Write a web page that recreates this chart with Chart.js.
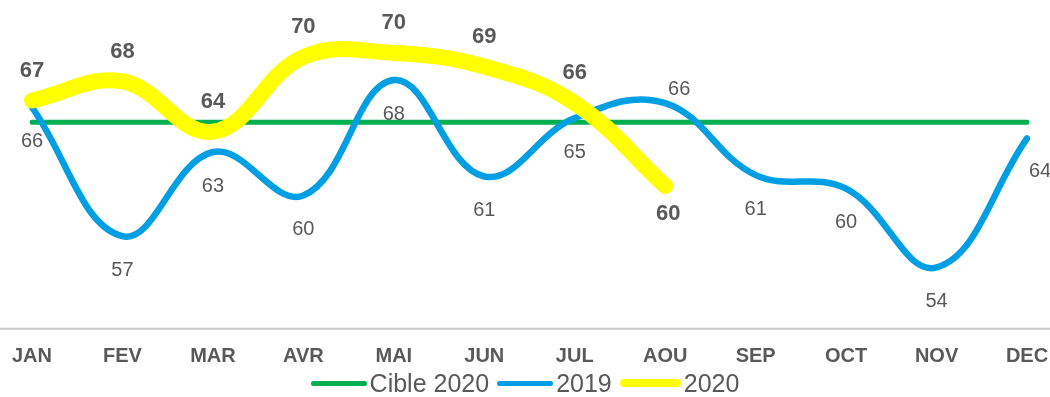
<!DOCTYPE html>
<html>
<head>
<meta charset="utf-8">
<script src="https://cdn.jsdelivr.net/npm/chart.js@4/dist/chart.umd.min.js"></script>
<style>
  body { margin: 0; background: #fff; }
  #wrap { position: relative; width: 1050px; height: 397px; }
  #legend {
    position: absolute; left: 0; top: 369px; width: 1050px;
    display: flex; justify-content: center; align-items: center;
    font: 25px 'Liberation Sans', Arial, sans-serif; color: #595959; line-height: 28px;
  }
  .item { display: flex; align-items: center; margin: 0 4px; }
  .swatch { width: 56px; border-radius: 4px; margin-right: 3px; }
</style>
</head>
<body>
<div id="wrap">
  <canvas id="kpiChart" width="1050" height="397"></canvas>
  <div id="legend"></div>
</div>
<script>
'use strict';
var months = ['JAN', 'FEV', 'MAR', 'AVR', 'MAI', 'JUN', 'JUL', 'AOU', 'SEP', 'OCT', 'NOV', 'DEC'];
var target2020 = [65, 65, 65, 65, 65, 65, 65, 65, 65, 65, 65, 65];
var values2019 = [66.1, 56.6, 62.8, 59.6, 68.1, 61.0, 65.3, 66.4, 61.1, 60.1, 54.3, 63.8];
var values2020 = [66.6, 68.0, 64.3, 69.8, 70.1, 69.1, 66.4, 60.3];

// where each value label sits relative to its point
var place2019 = ['below', 'below', 'below', 'below', 'below', 'below', 'below', 'above', 'below', 'below', 'below', 'right'];
var place2020 = ['above', 'above', 'above', 'above', 'above', 'above', 'above', 'below'];

var greyText = '#595959';
Chart.defaults.font.family = "'Liberation Sans', Arial, sans-serif";

var valueLabels = {
  id: 'valueLabels',
  afterDatasetsDraw: function(chart) {
    var ctx = chart.ctx;
    chart.data.datasets.forEach(function(ds, i) {
      if (!ds.valueLabel) return;
      var opts = ds.valueLabel;
      var meta = chart.getDatasetMeta(i);
      ctx.save();
      ctx.font = opts.font;
      ctx.fillStyle = greyText;
      ctx.textAlign = 'center';
      ctx.textBaseline = 'middle';
      meta.data.forEach(function(pt, j) {
        var shift = opts.shift[opts.place[j]];
        ctx.fillText(Math.round(ds.data[j]).toString(), pt.x + shift[0], pt.y + shift[1]);
      });
      ctx.restore();
    });
  }
};

// light grey axis line running the full width under the plot
var baseLine = {
  id: 'baseLine',
  beforeDatasetsDraw: function(chart) {
    var ctx = chart.ctx;
    var y = chart.chartArea.bottom + 3;
    ctx.save();
    ctx.strokeStyle = '#c8c8c8';
    ctx.lineWidth = 2;
    ctx.beginPath();
    ctx.moveTo(0, y);
    ctx.lineTo(chart.width, y);
    ctx.stroke();
    ctx.restore();
  }
};

var chart = new Chart(document.getElementById('kpiChart'), {
  type: 'line',
  data: {
    labels: months,
    datasets: [
      {
        label: 'Cible 2020',
        data: target2020,
        borderColor: '#00B050',
        backgroundColor: '#00B050',
        borderWidth: 5,
        order: 3
      },
      {
        label: '2019',
        data: values2019,
        borderColor: '#009FE3',
        backgroundColor: '#009FE3',
        borderWidth: 6.5,
        order: 2,
        valueLabel: {
          font: '20px "Liberation Sans", Arial, sans-serif',
          place: place2019,
          shift: { below: [0, 34], above: [14, -14], right: [13, 33] }
        }
      },
      {
        label: '2020',
        data: values2020,
        borderColor: '#FFFF00',
        backgroundColor: '#FFFF00',
        borderWidth: 16,
        order: 1,
        valueLabel: {
          font: 'bold 22px "Liberation Sans", Arial, sans-serif',
          place: place2020,
          shift: { above: [0, -30], below: [3, 28] }
        }
      }
    ]
  },
  options: {
    responsive: false,
    animation: false,
    layout: { padding: { left: 32, right: 23, top: 0, bottom: 10 } },
    elements: {
      point: { radius: 0, hoverRadius: 0 },
      line: { tension: 0.4, borderCapStyle: 'round', borderJoinStyle: 'round' }
    },
    plugins: {
      legend: { display: false },
      tooltip: { enabled: false }
    },
    scales: {
      x: {
        offset: false,
        grid: { display: false, drawTicks: false },
        border: { display: false },
        ticks: {
          color: greyText,
          font: { size: 20, weight: 'bold' },
          padding: 18.6,
          maxRotation: 0,
          autoSkip: false
        },
        afterFit: function(scale) {
          // month names may hang past the plot edges
          scale.paddingLeft = 0;
          scale.paddingRight = 0;
        }
      },
      y: { display: false, min: 50, max: 74 }
    }
  },
  plugins: [baseLine, valueLabels]
});

// legend: short rounded line swatch followed by the series name
var legendBox = document.getElementById('legend');
var swatchHeights = [5, 5, 8];
chart.data.datasets.forEach(function(ds, i) {
  var item = document.createElement('div');
  item.className = 'item';
  var sw = document.createElement('div');
  sw.className = 'swatch';
  sw.style.height = swatchHeights[i] + 'px';
  sw.style.background = ds.borderColor;
  if (i === 2) sw.style.width = '61px';
  var txt = document.createElement('span');
  txt.textContent = ds.label;
  item.appendChild(sw);
  item.appendChild(txt);
  legendBox.appendChild(item);
});
</script>
</body>
</html>
